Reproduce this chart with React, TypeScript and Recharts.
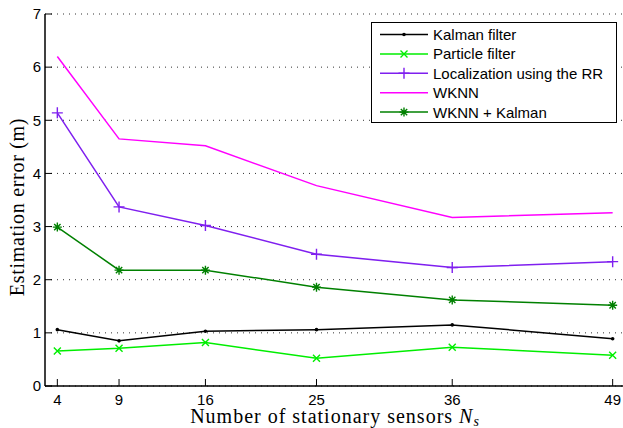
import React from "react";
import { LineChart, Line, XAxis, YAxis, CartesianGrid } from "recharts";

const nValues = [4, 9, 16, 25, 36, 49];
const kalman = [1.06, 0.85, 1.03, 1.06, 1.15, 0.89];
const particle = [0.66, 0.71, 0.82, 0.52, 0.73, 0.58];
const rr = [5.14, 3.37, 3.02, 2.48, 2.23, 2.34];
const wknn = [6.2, 4.65, 4.52, 3.77, 3.17, 3.26];
const wknnKalman = [2.99, 2.18, 2.18, 1.86, 1.62, 1.52];
const xTicks = [4, 9, 16, 25, 36, 49];
const yTicks = [0, 1, 2, 3, 4, 5, 6, 7];

const data = nValues.map((n, i) => ({
  n,
  kalman: kalman[i],
  particle: particle[i],
  rr: rr[i],
  wknn: wknn[i],
  wknnKalman: wknnKalman[i],
}));

const SANS = "'Liberation Sans', Arial, Helvetica, sans-serif";
const SERIF = "'Liberation Serif', 'Times New Roman', serif";

type MarkerKind = "dot" | "x" | "plus" | "none" | "star";

const markerPath = (kind: MarkerKind, cx: number, cy: number) => {
  if (kind === "x") {
    const s = 3.5;
    return `M${cx - s},${cy - s}L${cx + s},${cy + s}M${cx - s},${cy + s}L${cx + s},${cy - s}`;
  }
  if (kind === "plus") {
    const s = 5.5;
    return `M${cx - s},${cy}L${cx + s},${cy}M${cx},${cy - s}L${cx},${cy + s}`;
  }
  if (kind === "star") {
    const s = 4.5;
    const d = s * 0.7071;
    return `M${cx - s},${cy}L${cx + s},${cy}M${cx},${cy - s}L${cx},${cy + s}M${cx - d},${cy - d}L${cx + d},${cy + d}M${cx - d},${cy + d}L${cx + d},${cy - d}`;
  }
  return "";
};

const Marker = ({ kind, cx, cy, color }: { kind: MarkerKind; cx: number; cy: number; color: string }) => {
  if (kind === "none") return <g />;
  if (kind === "dot") return <circle cx={cx} cy={cy} r={1.8} fill={color} stroke="none" />;
  return <path d={markerPath(kind, cx, cy)} stroke={color} strokeWidth={1.4} fill="none" />;
};

const makeDot = (kind: MarkerKind, color: string) => (props: any) => {
  const { cx, cy, index } = props;
  if (cx == null || cy == null) return <g key={`m-${index}`} />;
  return (
    <g key={`m-${kind}-${index}`}>
      <Marker kind={kind} cx={cx} cy={cy} color={color} />
    </g>
  );
};

const series: { key: string; name: string; color: string; marker: MarkerKind }[] = [
  { key: "kalman", name: "Kalman filter", color: "#000000", marker: "dot" },
  { key: "particle", name: "Particle filter", color: "#00ee00", marker: "x" },
  { key: "rr", name: "Localization using the RR", color: "#7f1fef", marker: "plus" },
  { key: "wknn", name: "WKNN", color: "#ff00ff", marker: "none" },
  { key: "wknnKalman", name: "WKNN + Kalman", color: "#008000", marker: "star" },
];

const EmptyTick = () => <g />;

const XLabel = (props: any) => {
  const vb = props.viewBox || {};
  const cx = vb.x + vb.width / 2;
  const y = vb.y + 37;
  return (
    <text x={cx} y={y} textAnchor="middle" fontFamily={SERIF} fontSize={20} letterSpacing={1} fill="#000">
      Number of stationary sensors{" "}
      <tspan fontStyle="italic">N</tspan>
      <tspan fontStyle="italic" fontSize={14} dy={3}>s</tspan>
    </text>
  );
};

const YLabel = () => {
  const x = 16;
  const y = 199;
  return (
    <text x={x} y={y} transform={`rotate(-90, ${x}, ${y})`} textAnchor="middle" fontFamily={SERIF} fontSize={20} letterSpacing={0.7} fill="#000">
      Estimation error (m)
    </text>
  );
};

const LegendBox = () => {
  const w = 246;
  const h = 101;
  const rowY = (i: number) => 12.5 + i * 19.4;
  return (
    <svg width={w} height={h} style={{ display: "block" }}>
      <rect x={0.5} y={0.5} width={w - 1} height={h - 1} fill="#fff" stroke="#000" strokeWidth={1} />
      {series.map((s, i) => (
        <g key={s.key}>
          <line x1={9} x2={57} y1={rowY(i)} y2={rowY(i)} stroke={s.color} strokeWidth={1.5} />
          <Marker kind={s.marker} cx={33} cy={rowY(i)} color={s.color} />
          <text x={62} y={rowY(i) + 5.5} fontFamily={SANS} fontSize={15} fill="#000">
            {s.name}
          </text>
        </g>
      ))}
    </svg>
  );
};

export default function App() {
  return (
    <div style={{ position: "fixed", left: 0, top: 0, width: 660, height: 428, overflow: "hidden", background: "#fff" }}>
      <style>{"html{overflow:hidden;}"}</style>
      <div style={{ position: "absolute", left: 8, top: 8, width: 640, height: 420 }}>
        <LineChart width={640} height={420} data={data} margin={{ top: 6, right: 23, bottom: 0, left: 0 }}>
          <CartesianGrid vertical={false} stroke="#333" strokeDasharray="1 5" strokeWidth={1} />
          <XAxis
            dataKey="n"
            type="number"
            domain={[3, 50]}
            ticks={xTicks}
            interval={0}
            height={42}
            tickSize={-7}
            tickMargin={15}
            stroke="#000"
            axisLine={{ stroke: "#000", strokeWidth: 1.5 }}
            tickLine={{ stroke: "#000", strokeWidth: 1 }}
            tick={{ fill: "#000", fontSize: 15, fontFamily: SANS }}
            label={<XLabel />}
          />
          <XAxis
            xAxisId="top"
            dataKey="n"
            type="number"
            orientation="top"
            domain={[3, 50]}
            ticks={xTicks}
            interval={0}
            height={0}
            tickSize={-7}
            axisLine={{ stroke: "#000", strokeWidth: 1.5 }}
            tickLine={{ stroke: "#000", strokeWidth: 1 }}
            tick={EmptyTick}
          />
          <YAxis
            type="number"
            domain={[0, 7]}
            ticks={yTicks}
            interval={0}
            width={37}
            tickSize={-7}
            tickMargin={11}
            axisLine={{ stroke: "#000", strokeWidth: 1.5 }}
            tickLine={{ stroke: "#000", strokeWidth: 1 }}
            tick={{ fill: "#000", fontSize: 15, fontFamily: SANS }}
            label={<YLabel />}
          />
          <YAxis
            yAxisId="right"
            type="number"
            orientation="right"
            domain={[0, 7]}
            ticks={yTicks}
            interval={0}
            width={0}
            tickSize={-7}
            axisLine={{ stroke: "#000", strokeWidth: 1.5 }}
            tickLine={{ stroke: "#000", strokeWidth: 1 }}
            tick={EmptyTick}
          />
          {series.map((s) => (
            <Line
              key={s.key}
              dataKey={s.key}
              name={s.name}
              type="linear"
              stroke={s.color}
              strokeWidth={1.5}
              dot={makeDot(s.marker, s.color)}
              activeDot={false}
              isAnimationActive={false}
            />
          ))}
        </LineChart>
        <div style={{ position: "absolute", left: 363, top: 14 }}>
          <LegendBox />
        </div>
      </div>
    </div>
  );
}
